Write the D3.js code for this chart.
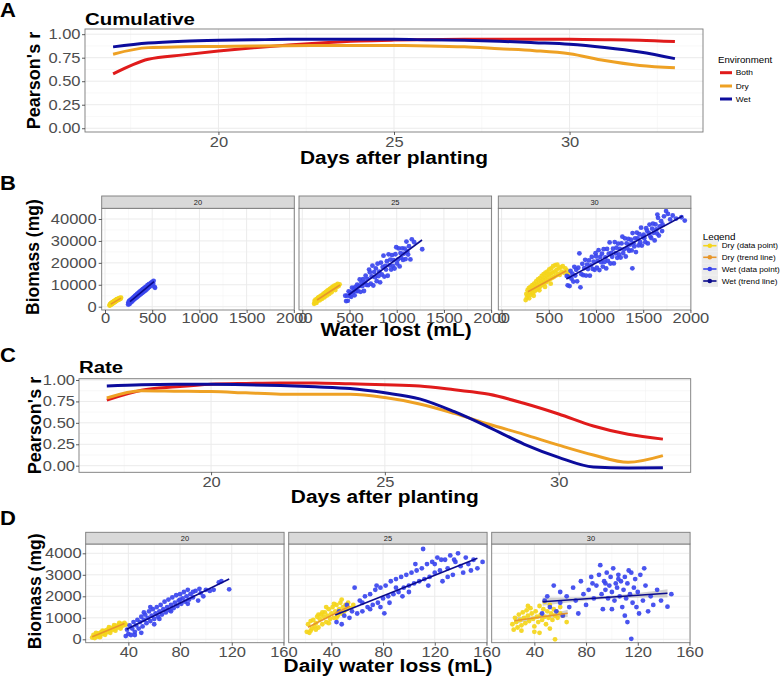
<!DOCTYPE html>
<html><head><meta charset="utf-8">
<script src="https://cdn.jsdelivr.net/npm/d3@7"></script>
<style>body{margin:0;background:#fff}svg text{font-family:"Liberation Sans",Arial,Helvetica,sans-serif}</style>
</head><body><svg id="c" width="780" height="676"></svg>
<script>
// ---------------- DATA ----------------
const days = [17,18,19,20,21,22,23,24,25,26,27,28,29,30,31,32,33];
const envNames = ["Both","Dry","Wet"];
const cumBoth = [0.578,0.734,0.78,0.82,0.855,0.885,0.91,0.928,0.937,0.942,0.945,0.946,0.946,0.945,0.942,0.936,0.921];
const cumDry  = [0.787,0.857,0.865,0.87,0.875,0.878,0.88,0.88,0.879,0.875,0.865,0.845,0.825,0.792,0.72,0.668,0.642];
const cumWet  = [0.865,0.905,0.925,0.935,0.94,0.945,0.945,0.945,0.945,0.94,0.935,0.925,0.91,0.893,0.858,0.81,0.74];
const rateBoth = [0.765,0.88,0.92,0.95,0.96,0.965,0.965,0.955,0.945,0.93,0.885,0.833,0.728,0.603,0.463,0.366,0.31];
const rateDry  = [0.79,0.875,0.87,0.865,0.85,0.835,0.833,0.833,0.795,0.72,0.61,0.483,0.366,0.24,0.125,0.04,0.117];
const rateWet  = [0.93,0.945,0.95,0.95,0.945,0.935,0.92,0.9,0.85,0.78,0.63,0.448,0.253,0.098,-0.015,-0.027,-0.025];

const facetDays = [20,25,30];
const lineTicksX = [20,25,30];
const rTicks = [0,0.25,0.5,0.75,1];
const bTicksX = [0,500,1000,1500,2000];
const bTicksY = [0,10000,20000,30000,40000];
const dTicksX = [40,80,120,160];
const dTicksY = [0,1000,2000,3000,4000];
const legendBLabels = ["Dry (data point)","Dry (trend line)","Wet (data point)","Wet (trend line)"];

// B: water lost (mL) vs biomass (mg)
const bDry20 = [[48,500],[52,1100],[55,700],[58,1300],[60,900],[63,1500],[65,1000],[68,1600],[70,1200],[73,1800],[75,1300],[78,1900],[80,1500],[83,2100],[85,1600],[88,2200],[90,1800],[93,2400],[95,1900],[98,2500],[100,2100],[103,2700],[105,2200],[108,2800],[110,2400],[113,3000],[115,2500],[118,3100],[120,2700],[123,3300],[125,2800],[128,3400],[130,3000],[135,3500],[138,3100],[142,3700],[145,3200],[150,3900],[155,3500],[160,4000],[165,3600],[170,4100]];
const bWet20 = [[245,1000],[248,2000],[252,1500],[256,2600],[260,1200],[264,2200],[268,3000],[272,1900],[276,2700],[280,3500],[284,2300],[288,3200],[292,3900],[296,2800],[300,3600],[304,4400],[308,3300],[312,4100],[316,4900],[320,3700],[324,4500],[328,5300],[332,4100],[336,5000],[340,5800],[344,4500],[348,5400],[352,6200],[356,5000],[360,5800],[364,6700],[368,5400],[372,6300],[376,7100],[380,5800],[384,6700],[388,7600],[392,6200],[396,7100],[400,8000],[404,6600],[408,7500],[412,8400],[416,7000],[420,7900],[424,8800],[428,7400],[432,8300],[436,9200],[440,7800],[445,8900],[450,9800],[455,8400],[460,9400],[465,10300],[470,9000],[478,10000],[485,10800],[492,9600],[500,11300],[510,10500],[515,11800],[525,9000],[530,8600]];
const bDry25 = [[125,1300],[130,2600],[135,1800],[140,3200],[145,2200],[150,1700],[155,3500],[160,2700],[165,4000],[170,3000],[175,4400],[180,3500],[185,2900],[190,4700],[195,3700],[200,5000],[205,4100],[210,3600],[215,5400],[220,4600],[225,6000],[230,5000],[235,4300],[240,6300],[245,5400],[250,6800],[255,5900],[260,5100],[265,7200],[270,6200],[275,7600],[280,6600],[285,5800],[290,8000],[295,7000],[300,8400],[305,7400],[310,6600],[315,8800],[320,7800],[325,9200],[330,8200],[340,9600],[345,8600],[350,7600],[360,10000],[365,9000],[375,10400],[385,9400],[395,10200]];
const bWet25 = [[455,4990],[464,2580],[473,5030],[482,2680],[491,6990],[500,5000],[509,6490],[518,4500],[527,8690],[536,6460],[545,8190],[554,5180],[563,9010],[572,7080],[581,10070],[590,7120],[599,9330],[608,12420],[617,6790],[626,10920],[635,9370],[644,12620],[653,7150],[662,11040],[671,14210],[680,9940],[689,12710],[698,9800],[707,16930],[716,15720],[725,10510],[734,13800],[743,18690],[752,9680],[761,15770],[770,13460],[779,17450],[788,11640],[797,19630],[806,13920],[815,16010],[824,11100],[833,20090],[842,14680],[851,18070],[860,23260],[869,13750],[878,18640],[887,16930],[896,20720],[905,14110],[914,23900],[923,18890],[932,21480],[941,16970],[950,23560],[959,18650],[968,21240],[977,17430],[986,23920],[995,27110],[1004,19700],[1013,21490],[1022,26580],[1031,18370],[1040,24460],[1049,22250],[1058,26640],[1067,21330],[1076,24220],[1085,26510],[1094,21700],[1103,29690],[1112,25180],[1121,23770],[1130,27560],[1145,21550],[1160,30730],[1185,29400],[1270,26200]];
const bDry30 = [[255,3000],[262,5800],[268,4200],[275,7500],[280,5200],[288,8500],[292,3800],[298,6500],[305,9000],[310,5400],[318,7600],[325,9800],[330,6200],[338,8500],[345,10500],[350,7000],[358,9200],[365,11500],[370,7800],[378,10000],[385,12500],[390,8500],[398,10800],[405,13000],[410,9200],[418,11500],[425,14000],[430,10000],[438,12300],[445,14800],[450,10500],[458,13000],[465,15500],[470,11200],[478,13800],[485,16000],[490,12000],[498,14500],[505,17000],[510,12500],[518,15000],[525,17500],[530,13000],[538,15500],[545,18500],[552,13500],[560,16000],[568,19000],[575,14200],[582,16800],[590,19200],[598,15000],[605,17500],[615,14500],[625,18000],[635,16000],[648,18500],[660,15500],[675,17500],[690,16500],[705,15000],[400,7500],[460,9000],[520,10500],[340,5000]];
const bWet30 = [[690,14020],[700,9760],[710,13590],[720,9420],[730,16360],[740,12790],[750,15020],[760,11450],[770,18190],[780,14220],[790,16850],[800,11590],[812,17770],[824,24350],[835,8850],[845,14840],[855,19570],[865,14400],[875,17630],[885,21370],[895,14200],[905,19230],[915,17170],[925,21100],[935,14130],[945,18870],[955,22700],[965,17230],[975,20560],[985,16800],[995,24430],[1000,23000],[1009,17760],[1018,20970],[1027,25780],[1036,16690],[1045,22690],[1054,20300],[1063,24210],[1072,18320],[1081,26230],[1090,20440],[1099,22450],[1108,17460],[1117,26370],[1126,20880],[1135,24190],[1144,29300],[1153,19710],[1162,24520],[1171,22730],[1180,26440],[1189,19750],[1198,29460],[1207,24370],[1216,26880],[1225,22290],[1234,28800],[1243,23810],[1252,26320],[1261,22430],[1270,28840],[1279,31950],[1288,24460],[1297,26170],[1306,31180],[1315,22890],[1324,28900],[1333,26600],[1342,30910],[1351,25520],[1360,28330],[1369,30540],[1378,25650],[1385,17500],[1387,33560],[1396,28970],[1405,27480],[1414,31190],[1423,24900],[1432,33810],[1441,31120],[1450,27930],[1459,33040],[1468,29450],[1477,36060],[1486,27870],[1495,31780],[1504,32890],[1513,31300],[1522,29410],[1531,35820],[1540,34630],[1549,28840],[1558,33650],[1567,37460],[1576,32070],[1585,31280],[1594,35590],[1603,37900],[1612,33710],[1621,30220],[1630,37530],[1639,35240],[1648,33340],[1657,40550],[1666,32460],[1675,36670],[1690,39000],[1705,37500],[1720,41200],[1742,43600],[1762,42300],[1785,39800],[1812,41600],[1848,40200],[1905,40800],[1940,39300],[1700,34500],[1650,42000]];
const bDryTrend = [[62,1200,170,3900],[156,3060,400,9900],[279,6840,686,16400]];
const bWetTrend = [[265,2280,519,11400],[490,5340,1268,30420],[686,12630,1917,41370]];

// D: daily water loss (mL) vs biomass (mg)
const dDry20 = [[12,80],[13,200],[14,60],[15,220],[16,130],[17,280],[18,170],[19,330],[20,240],[21,380],[22,290],[23,430],[24,340],[25,480],[26,400],[27,530],[28,450],[29,580],[30,500],[31,630],[32,550],[33,680],[34,600],[35,720],[36,640],[37,760],[38,680],[18,100],[22,210],[26,300],[30,400],[34,500],[15,300],[20,400],[25,560],[29,660],[33,760]];
const dWet20 = [[38,150],[39,450],[40,250],[41,650],[42,200],[43,500],[44,800],[45,350],[46,650],[47,900],[48,500],[49,800],[50,1050],[51,600],[52,900],[53,1150],[54,750],[55,1000],[56,1300],[57,850],[58,1100],[59,1400],[60,950],[61,1200],[62,1500],[63,1050],[64,1300],[65,1600],[66,1150],[67,1400],[68,1750],[69,1250],[70,1500],[71,1850],[72,1350],[73,1600],[74,1950],[75,1450],[76,1700],[77,2050],[78,1550],[79,1800],[80,2100],[81,1650],[82,1900],[83,2200],[84,1750],[85,2000],[86,2300],[87,1850],[88,2100],[90,1950],[92,2250],[94,1800],[96,2150],[98,2000],[100,2300],[103,2250],[110,2650],[112,2700],[118,2325],[95,2350],[57,1500],[64,950],[73,1300],[80,1850],[86,1650],[52,1250],[60,700],[45,200],[50,300],[106,2300],[90,2200]];
const dDry25 = [[21,350],[22,700],[23,300],[24,850],[25,500],[26,900],[27,600],[28,750],[29,1050],[30,550],[31,950],[32,1150],[33,700],[34,1050],[35,1250],[36,800],[37,1100],[38,1400],[39,950],[40,1200],[41,1500],[42,1000],[43,1300],[44,1600],[45,1100],[46,1400],[47,1700],[48,1200],[49,1500],[50,1300],[51,1600],[52,1400],[53,1700],[55,1450],[57,1600],[24,400],[28,450],[33,1250],[38,750],[44,1000],[48,1850],[30,1150],[36,1500],[42,1650]];
const dWet25 = [[44,800],[46,1300],[48,700],[50,1100],[52,1600],[54,1000],[56,1300],[58,2400],[60,1200],[62,1800],[64,1300],[66,2000],[68,1500],[70,2100],[72,1600],[74,2300],[76,1700],[78,2400],[80,1900],[81,1210],[82,2500],[84,2000],[86,2700],[88,2100],[90,2800],[92,2200],[94,2900],[96,2400],[98,3000],[100,2500],[102,3100],[104,2600],[106,3200],[108,2700],[110,3300],[111,4200],[112,2800],[114,3500],[116,2900],[118,3600],[120,3100],[122,3800],[124,3200],[126,2700],[128,3700],[130,3300],[132,3900],[134,3000],[136,3600],[138,4000],[140,3400],[142,3100],[144,3800],[146,3500],[148,3200],[150,3700],[153,3300],[157,3600],[70,1400],[75,2500],[85,1700],[95,2000],[105,3500],[115,2500],[125,3700],[135,3700],[100,2200],[90,2400],[64,1700],[78,1500],[120,3500],[130,2900]];
const dDry30 = [[23,700],[24,450],[25,1000],[26,800],[27,550],[28,1150],[29,900],[30,650],[31,1250],[32,1000],[33,750],[34,1350],[35,1100],[36,850],[37,1450],[38,1200],[39,950],[40,600],[41,1300],[42,1050],[43,800],[44,1550],[45,1150],[46,900],[47,1400],[48,1050],[49,700],[50,1300],[51,1000],[52,1600],[53,1200],[54,900],[55,1400],[56,1100],[57,1300],[58,1000],[60,1200],[62,1100],[65,800],[48,1750],[40,350],[56,0],[30,400],[44,300],[52,500],[35,1550],[60,1500]];
const dWet30 = [[46,1200],[48,1800],[50,2000],[52,1500],[55,2500],[57,1300],[60,1700],[62,1100],[65,2000],[67,1500],[70,2400],[72,1800],[74,1200],[76,2700],[78,2100],[80,1600],[82,2300],[84,2900],[86,1900],[88,2500],[90,3000],[91,3450],[92,2100],[93,1400],[94,2700],[95,2300],[96,3100],[97,1900],[98,2500],[99,2900],[100,2200],[101,3300],[102,1800],[103,2600],[104,2400],[105,3000],[106,2000],[107,2700],[108,1500],[109,2300],[110,2900],[111,1900],[112,2600],[113,3200],[114,2100],[115,20],[116,1700],[117,2400],[118,2800],[119,1500],[120,2200],[121,1200],[122,3000],[124,1800],[126,2500],[128,1300],[130,2000],[132,1600],[135,2300],[138,1800],[143,1520],[146,2100],[60,2200],[85,2600],[100,1400],[110,1100],[115,3100],[125,3300],[105,2800],[95,2600],[112,800]];
const dDryTrend = [[12,120,37,740],[22,560,54.5,1550],[24.5,866,65.8,1210]];
const dWetTrend = [[38.7,465,118,2805],[43,1130,153,3770],[46.4,1750,143,2140]];
const dWetBand30 = [[46.4,1560,1940],[70,1735,1955],[95,1876,2016],[120,1937,2157],[143,1950,2330]];
const dDryBand30 = [[24.5,696,1036],[45,967,1107],[65.8,1040,1380]];

// ---------------- STYLE ----------------
const envColor = {Both:"#E01B1B", Dry:"#EEA124", Wet:"#0C0C9C"};
const colYellow = "#F4D51A", colBlue = "#3A45EE", colDryTrend = "#E8962A", colWetTrend = "#0B0B8C";
const svg = d3.select("#c");
const SX = 1.18;

function T(g, x, y, s, o) {
  o = o || {};
  let tr = `translate(${x},${y})`;
  if (o.rot) tr += ` rotate(${o.rot})`;
  else tr += ` scale(${o.sx || SX},1)`;
  return g.append("text").attr("transform", tr).attr("font-size", o.size || 14)
    .attr("font-weight", o.bold ? "bold" : null).attr("fill", o.fill || "#000")
    .attr("text-anchor", o.anchor || "start").text(s);
}

function grid(g, xt, yt, xm, ym, w, h) {
  const gg = g.append("g");
  gg.selectAll(".mx").data(xm).join("line").attr("x1", d => d).attr("x2", d => d).attr("y1", 0).attr("y2", h)
    .attr("stroke", "#F3F3F3").attr("stroke-width", 0.6);
  gg.selectAll(".my").data(ym).join("line").attr("y1", d => d).attr("y2", d => d).attr("x1", 0).attr("x2", w)
    .attr("stroke", "#F3F3F3").attr("stroke-width", 0.6);
  gg.selectAll(".Mx").data(xt).join("line").attr("x1", d => d).attr("x2", d => d).attr("y1", 0).attr("y2", h)
    .attr("stroke", "#EBEBEB").attr("stroke-width", 1);
  gg.selectAll(".My").data(yt).join("line").attr("y1", d => d).attr("y2", d => d).attr("x1", 0).attr("x2", w)
    .attr("stroke", "#EBEBEB").attr("stroke-width", 1);
}
function inRange(arr, scale){ const r = scale.range(); return arr.map(v => scale(v)).filter(p => p >= Math.min(...r) && p <= Math.max(...r)); }

function styleAxis(ax, orient, size) {
  ax.select(".domain").remove();
  ax.selectAll(".tick line").attr("stroke", "#333").attr("stroke-width", 0.8);
  ax.selectAll(".tick text").attr("font-size", size).attr("fill", "#4D4D4D").each(function () {
    const t = d3.select(this);
    if (orient === "left") t.attr("x", +t.attr("x") / SX);
    t.attr("transform", `scale(${SX},1)`);
  });
}
function mids(ticks){ const out=[]; for(let i=0;i<ticks.length-1;i++) out.push((ticks[i]+ticks[i+1])/2); return out; }

// ---------------- LINE PANELS (A, C) ----------------
function linePanel(box, yDom, series, title, letterY, letter, xPad, titleY, xTitleY, yTitleX, ytPad) {
  const g = svg.append("g").attr("transform", `translate(${box.l},${box.t})`);
  const w = box.r - box.l, h = box.b - box.t;
  const x = d3.scaleLinear().domain([16.2, 33.8]).range([0, w]);
  const y = d3.scaleLinear().domain(yDom).range([h, 0]);
  grid(g, inRange(lineTicksX, x), inRange(rTicks, y), inRange([17.5, 22.5, 27.5, 32.5], x), inRange([0.125, 0.375, 0.625, 0.875], y), w, h);
  const line = d3.line().x((d, i) => x(days[i])).y(d => y(d)).curve(d3.curveMonotoneX);
  envNames.forEach((nm, k) => {
    g.append("path").datum(series[k]).attr("d", line).attr("fill", "none")
      .attr("stroke", envColor[nm]).attr("stroke-width", 3).attr("stroke-linejoin", "round");
  });
  g.append("rect").attr("width", w).attr("height", h).attr("fill", "none").attr("stroke", "#7a7a7a").attr("stroke-width", 0.9);
  const ax = g.append("g").attr("transform", `translate(0,${h})`)
    .call(d3.axisBottom(x).tickValues(lineTicksX).tickSize(3).tickPadding(xPad));
  styleAxis(ax, "bottom", 14);
  const ay = g.append("g").call(d3.axisLeft(y).tickValues(rTicks).tickSize(3).tickPadding(ytPad).tickFormat(d3.format(".2f")));
  styleAxis(ay, "left", 14);
  T(svg, box.l, titleY, title, {size: 17, bold: true, sx: 1.2});
  T(svg, 0, letterY, letter, {size: 20, bold: true, sx: 1.1});
  T(svg, (box.l + box.r) / 2, xTitleY, "Days after planting", {size: 18.5, bold: true, anchor: "middle", sx: 1.13});
  T(svg, yTitleX, (box.t + box.b) / 2, "Pearson's r", {size: 18, bold: true, anchor: "middle", rot: -90});
}

linePanel({l: 85, r: 703, t: 29, b: 132}, [-0.04, 1.055], [cumBoth, cumDry, cumWet], "Cumulative", 17, "A", 2.3, 25, 164, 40, 1.5);
linePanel({l: 79, r: 690.7, t: 378.7, b: 472.3}, [-0.077, 1.015], [rateBoth, rateDry, rateWet], "Rate", 362, "C", 2, 373, 502.5, 41, 1);

// Legend A
T(svg, 718, 63, "Environment", {size: 8.4, sx: 1.15});
envNames.forEach((nm, k) => {
  const yy = [72.7, 86, 99][k];
  svg.append("line").attr("x1", 720).attr("x2", 732).attr("y1", yy).attr("y2", yy).attr("stroke", envColor[nm]).attr("stroke-width", 3);
  T(svg, 735.7, yy + 2.7, nm, {size: 7.5, sx: 1.12});
});

// ---------------- SCATTER FACETS (B, D) ----------------
let clipId = 0;
function scatterFacets(cfg) {
  cfg.x0s.forEach((x0, fi) => {
    const w = cfg.w, h = cfg.bottom - cfg.top;
    const g = svg.append("g").attr("transform", `translate(${x0},${cfg.top})`);
    const x = d3.scaleLinear().domain(cfg.xDom).range([0, w]);
    const y = d3.scaleLinear().domain(cfg.yDom).range([h, 0]);
    grid(g, inRange(cfg.xTicks, x), inRange(cfg.yTicks, y), inRange(cfg.xMinor, x), inRange(cfg.yMinor, y), w, h);
    const id = "clip" + (clipId++);
    g.append("clipPath").attr("id", id).append("rect").attr("width", w).attr("height", h);
    const pg = g.append("g").attr("clip-path", `url(#${id})`);
    (cfg.bands[fi] || []).forEach(b => {
      pg.append("path").datum(b).attr("fill", "#9a9a9a").attr("fill-opacity", 0.45)
        .attr("d", d3.area().x(d => x(d[0])).y0(d => y(d[1])).y1(d => y(d[2])).curve(d3.curveMonotoneX));
    });
    pg.selectAll(".dp").data(cfg.dry[fi]).join("circle").attr("cx", d => x(d[0])).attr("cy", d => y(d[1]))
      .attr("r", cfg.r).attr("fill", colYellow).attr("fill-opacity", 0.92);
    pg.selectAll(".wp").data(cfg.wet[fi]).join("circle").attr("cx", d => x(d[0])).attr("cy", d => y(d[1]))
      .attr("r", cfg.r).attr("fill", colBlue).attr("fill-opacity", 0.92);
    [[cfg.dryTrend[fi], colDryTrend], [cfg.wetTrend[fi], colWetTrend]].forEach(([t, c]) => {
      pg.append("line").attr("x1", x(t[0])).attr("y1", y(t[1])).attr("x2", x(t[2])).attr("y2", y(t[3]))
        .attr("stroke", c).attr("stroke-width", 1.6);
    });
    g.append("rect").attr("width", w).attr("height", h).attr("fill", "none").attr("stroke", "#7a7a7a").attr("stroke-width", 0.9);
    g.append("rect").attr("y", cfg.stripTop - cfg.top).attr("width", w).attr("height", cfg.top - cfg.stripTop)
      .attr("fill", "#D9D9D9").attr("stroke", "#7a7a7a").attr("stroke-width", 0.9);
    T(g, w / 2, (cfg.stripTop - cfg.top) / 2 + 2.4, String(facetDays[fi]), {size: 6.8, anchor: "middle", fill: "#1a1a1a", sx: 1.1});
    const ax = g.append("g").attr("transform", `translate(0,${h})`)
      .call(d3.axisBottom(x).tickValues(cfg.xTicks).tickSize(3).tickPadding(cfg.xPad).tickFormat(d3.format("d")));
    styleAxis(ax, "bottom", 14);
    if (fi === 0) {
      const ay = g.append("g").call(d3.axisLeft(y).tickValues(cfg.yTicks).tickSize(3).tickPadding(cfg.yPad).tickFormat(d3.format("d")));
      styleAxis(ay, "left", 14);
    }
  });
  T(svg, 0, cfg.letterY, cfg.letter, {size: 20, bold: true, sx: 1.1});
  T(svg, cfg.xTitleX, cfg.xTitleY, cfg.xTitle, {size: 18.5, bold: true, anchor: "middle", sx: 1.13});
  T(svg, cfg.yTitleX, (cfg.top + cfg.bottom) / 2 - 2, "Biomass (mg)", {size: 17.5, bold: true, anchor: "middle", rot: -90});
}

scatterFacets({
  x0s: [101.7, 299, 498.3], w: 192.6, stripTop: 196, top: 208.3, bottom: 310,
  xDom: [-35, 2005], yDom: [-1505, 44880], xTicks: bTicksX, yTicks: bTicksY,
  xMinor: mids(bTicksX), yMinor: mids(bTicksY),
  dry: [bDry20, bDry25, bDry30], wet: [bWet20, bWet25, bWet30],
  dryTrend: bDryTrend, wetTrend: bWetTrend, bands: [[], [], []], r: 2.4,
  xPad: 0.5, yPad: 2, letter: "B", letterY: 190, xTitle: "Water lost (mL)", xTitleX: 396, xTitleY: 336, yTitleX: 39
});

scatterFacets({
  x0s: [85.7, 288.7, 491.7], w: 198.4, stripTop: 532.3, top: 544, bottom: 642.7,
  xDom: [7, 160.5], yDom: [-158, 4433], xTicks: dTicksX, yTicks: dTicksY,
  xMinor: [20].concat(mids(dTicksX)), yMinor: mids(dTicksY),
  dry: [dDry20, dDry25, dDry30], wet: [dWet20, dWet25, dWet30],
  dryTrend: dDryTrend, wetTrend: dWetTrend, bands: [[], [], [dWetBand30, dDryBand30]], r: 2.4,
  xPad: 1, yPad: 1, letter: "D", letterY: 525, xTitle: "Daily water loss (mL)", xTitleX: 388, xTitleY: 672, yTitleX: 40.5
});

// Legend B
T(svg, 702.7, 240, "Legend", {size: 8.8, sx: 1.12});
const legBColors = [colYellow, colDryTrend, colBlue, colWetTrend];
legendBLabels.forEach((lab, k) => {
  const yy = [245.7, 257.3, 269, 281][k];
  svg.append("rect").attr("x", 701.7).attr("y", yy - 5.8).attr("width", 16.3).attr("height", 11.7).attr("fill", "#EBEBEB");
  svg.append("line").attr("x1", 703.2).attr("x2", 716.5).attr("y1", yy).attr("y2", yy).attr("stroke", legBColors[k]).attr("stroke-width", 1.6);
  svg.append("circle").attr("cx", 709.8).attr("cy", yy).attr("r", 2.3).attr("fill", legBColors[k]);
  T(svg, 721.7, yy + 2.5, lab, {size: 7.3, sx: 1.12});
});
</script></body></html>
